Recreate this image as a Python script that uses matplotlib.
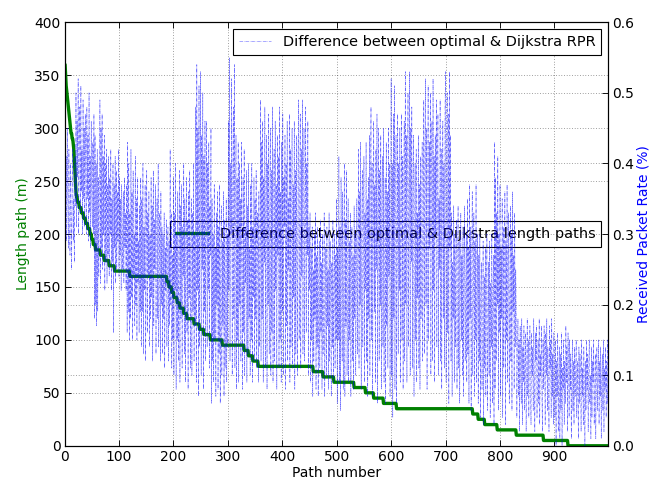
import numpy as np
import matplotlib
matplotlib.use("Agg")
import matplotlib.pyplot as plt
from matplotlib.ticker import FormatStrFormatter

# Length difference (m), stored as level -> number of paths at that level
length_levels = [360, 350, 340, 335, 330, 325, 320, 315, 310, 305, 300, 295, 290,
                 285, 280, 270, 260, 250, 240, 235, 230, 225, 220, 215, 210, 205,
                 200, 195, 190, 185, 180, 175, 170, 165, 160, 155, 150, 145, 140,
                 135, 130, 125, 120, 115, 110, 105, 100, 95, 90, 85, 80, 75, 70,
                 65, 60, 55, 50, 45, 40, 35, 30, 25, 20, 15, 10, 5, 0]
length_counts = [2, 1, 1, 1, 1, 1, 1, 1, 1, 1, 1, 2, 2,
                 1, 1, 1, 1, 1, 1, 2, 3, 4, 4, 4, 4, 4,
                 3, 3, 4, 9, 7, 9, 10, 28, 68, 4, 5, 4, 6,
                 5, 7, 6, 13, 10, 8, 12, 22, 40, 8, 8, 10, 101, 18,
                 20, 37, 21, 15, 18, 24, 140, 10, 12, 23, 35, 50, 45, 75]

# RPR difference per path (hundredths)
rpr_hundredths = [
    30, 44, 33, 41, 29, 45, 36, 28, 42, 31, 27, 40, 33, 25, 38, 42, 29, 35, 26, 41,
    34, 50, 31, 46, 38, 52, 30, 44, 48, 33, 51, 36, 42, 30, 49, 35, 45, 31, 47, 39,
    30, 48, 35, 44, 29, 50, 33, 41, 28, 46, 36, 31, 43, 30, 47, 18, 44, 20, 40, 17,
    42, 19, 38, 24, 35, 49, 23, 45, 28, 47, 25, 41, 30, 44, 22, 40, 26, 42, 23, 37,
    27, 41, 24, 38, 30, 42, 22, 35, 26, 40, 16, 37, 28, 41, 23, 39, 25, 36, 29, 42,
    24, 38, 27, 35, 22, 37, 30, 25, 36, 23, 38, 28, 33, 22, 37, 16, 43, 19, 40, 15,
    33, 18, 42, 21, 36, 15, 39, 24, 30, 17, 41, 20, 35, 15, 38, 23, 29, 16, 34, 19,
    38, 14, 35, 19, 40, 13, 31, 22, 37, 12, 28, 39, 16, 33, 24, 36, 14, 30, 18, 38,
    21, 34, 12, 39, 17, 32, 25, 37, 13, 29, 35, 18, 40, 14, 26, 33, 12, 36, 20, 31,
    13, 30, 18, 33, 11, 28, 22, 32, 14, 26, 31, 12, 29, 17, 42, 20, 33, 11, 27, 15,
    38, 10, 33, 22, 40, 8, 30, 15, 36, 12, 27, 39, 9, 34, 18, 37, 11, 31, 24, 40,
    13, 35, 9, 29, 38, 16, 32, 8, 36, 21, 39, 11, 28, 35, 10, 33, 19, 40, 12, 30,
    17, 48, 9, 54, 22, 45, 7, 51, 14, 38, 53, 10, 44, 25, 50, 8, 41, 19, 46, 12,
    36, 46, 14, 40, 22, 43, 11, 34, 27, 45, 6, 35, 12, 30, 9, 37, 15, 28, 7, 33,
    20, 36, 8, 31, 13, 37, 6, 26, 34, 10, 29, 17, 36, 7, 32, 11, 24, 35, 9, 30,
    14, 46, 22, 55, 12, 40, 30, 52, 10, 36, 48, 18, 54, 11, 33, 44, 8, 38, 15, 43,
    9, 40, 20, 35, 12, 43, 27, 8, 38, 16, 42, 10, 31, 23, 39, 9, 34, 13, 40, 18,
    28, 10, 37, 15, 40, 9, 31, 21, 38, 12, 35, 18, 39, 11, 29, 33, 9, 36, 14, 25,
    49, 12, 43, 18, 46, 9, 38, 26, 48, 11, 35, 44, 8, 40, 20, 47, 13, 32, 45, 10,
    39, 16, 48, 9, 34, 42, 12, 46, 22, 37, 8, 44, 27, 41, 11, 48, 15, 36, 9, 43,
    19, 47, 10, 38, 31, 44, 8, 40, 17, 46, 12, 35, 25, 47, 9, 42, 14, 33, 45, 11,
    37, 21, 46, 8, 39, 13, 44, 28, 10, 41, 49, 15, 36, 47, 11, 42, 24, 49, 13, 38,
    45, 12, 33, 48, 16, 40, 27, 46, 10, 31, 22, 33, 9, 28, 15, 31, 7, 25, 12, 30,
    18, 33, 8, 27, 14, 31, 7, 24, 29, 11, 32, 16, 26, 8, 30, 13, 22, 33, 7, 20,
    28, 10, 31, 17, 25, 8, 33, 12, 29, 19, 7, 26, 14, 32, 9, 23, 30, 11, 27, 15,
    35, 6, 28, 15, 41, 9, 31, 5, 38, 20, 12, 36, 8, 25, 40, 7, 32, 17, 39, 10,
    24, 35, 9, 29, 15, 33, 7, 22, 31, 12, 27, 8, 34, 18, 30, 10, 25, 35, 13, 28,
    42, 11, 36, 20, 43, 8, 30, 39, 14, 27, 41, 9, 33, 22, 43, 12, 35, 7, 38, 18,
    44, 10, 36, 48, 15, 40, 7, 31, 46, 19, 37, 9, 42, 25, 47, 6, 33, 45, 12, 39,
    20, 44, 8, 35, 41, 14, 45, 9, 29, 38, 6, 43, 17, 36, 11, 45, 24, 40, 7, 33,
    52, 10, 40, 4, 47, 18, 51, 8, 36, 44, 6, 30, 47, 13, 40, 22, 45, 9, 35, 47,
    15, 41, 8, 37, 46, 12, 53, 20, 44, 9, 38, 50, 14, 32, 53, 10, 45, 26, 48, 11,
    36, 44, 7, 30, 40, 15, 42, 9, 33, 21, 44, 11, 37, 8, 41, 18, 35, 43, 12, 29,
    49, 13, 40, 52, 20, 45, 8, 37, 51, 15, 43, 28, 50, 10, 39, 46, 12, 52, 22, 41,
    9, 44, 30, 49, 14, 38, 47, 10, 35, 25, 49, 12, 42, 8, 37, 46, 18, 40, 11, 48,
    53, 9, 41, 50, 16, 47, 6, 53, 28, 44, 12, 33, 7, 26, 18, 34, 9, 30, 14, 28,
    32, 8, 24, 34, 11, 29, 6, 22, 33, 15, 27, 10, 31, 7, 25, 34, 12, 20, 30, 9,
    35, 13, 28, 6, 37, 18, 31, 5, 26, 36, 10, 24, 33, 7, 29, 15, 37, 9, 22, 30,
    6, 27, 12, 30, 4, 22, 26, 8, 18, 29, 3, 24, 11, 28, 7, 20, 30, 5, 16, 26,
    10, 29, 4, 23, 14, 30, 6, 21, 27, 3, 43, 8, 38, 12, 33, 20, 41, 5, 30, 16,
    37, 7, 28, 18, 35, 4, 31, 11, 24, 36, 3, 29, 15, 37, 9, 26, 33, 6, 21, 34,
    12, 30, 5, 36, 19, 27, 8, 33, 14, 25, 16, 4, 13, 18, 7, 15, 2, 17, 10, 6,
    18, 3, 14, 9, 17, 5, 12, 16, 2, 11, 18, 7, 15, 4, 13, 17, 8, 3, 16, 10,
    14, 5, 18, 9, 2, 16, 12, 17, 4, 11, 15, 6, 18, 3, 13, 10, 17, 7, 2, 15,
    8, 17, 12, 3, 16, 10, 18, 5, 14, 9, 2, 17, 11, 15, 4, 18, 7, 13, 3, 16,
    10, 4, 15, 0, 12, 7, 16, 2, 9, 14, 1, 13, 5, 16, 0, 11, 8, 15, 3, 12,
    6, 17, 9, 14, 2, 16, 11, 4, 15, 8, 13, 1, 10, 15, 5, 12, 3, 14, 7, 11,
    15, 4, 12, 8, 1, 14, 6, 13, 10, 2, 15, 7, 11, 3, 14, 9, 0, 12, 5, 15,
    8, 13, 2, 11, 15, 6, 10, 1, 14, 4, 12, 9, 15, 3, 7, 13, 1, 11, 14, 5,
    10, 15, 3, 12, 7, 14, 1, 9, 13, 5, 15, 2, 11, 8, 14, 4, 12, 6, 15, 9,
]

length_diff = np.repeat(length_levels, length_counts)
rpr_diff = np.array(rpr_hundredths) / 100.0
x_len = np.arange(len(length_diff))
x_rpr = np.arange(len(rpr_diff))

plt.rcParams["font.family"] = "DejaVu Sans"
plt.rcParams["font.size"] = 12.5
plt.rcParams["xtick.direction"] = "in"
plt.rcParams["ytick.direction"] = "in"

fig = plt.figure(figsize=(8.15, 6.05), dpi=80)
ax1 = fig.add_axes([0.099, 0.079, 0.834, 0.875])
ax2 = ax1.twinx()

green = (0, 0.5, 0)
line_len, = ax1.plot(x_len, length_diff, color=green, lw=3,
                     label="Difference between optimal & Dijkstra length paths")
line_rpr, = ax2.plot(x_rpr, rpr_diff, color="b", ls="-.", lw=0.5, alpha=0.6,
                     label="Difference between optimal & Dijkstra RPR")

ax1.set_xlim(0, 999)
ax1.set_ylim(0, 400)
ax2.set_ylim(0, 0.6)
ax1.set_xticks(np.arange(0, 1000, 100))
ax1.set_yticks(np.arange(0, 401, 50))
ax2.set_yticks(np.arange(0, 0.61, 0.1))
ax2.yaxis.set_major_formatter(FormatStrFormatter("%.1f"))

for ax in (ax1, ax2):
    ax.grid(True, color="k", ls=(0, (1, 3)), lw=0.6, alpha=0.8)
    ax.tick_params(length=5, width=0.8, top=True)
    for s in ax.spines.values():
        s.set_linewidth(1.0)

ax1.set_xlabel("Path number", labelpad=2)
ax1.set_ylabel("Length path (m)", color=green)
ax2.set_ylabel("Received Packet Rate (%)", color="b", labelpad=2)

leg1 = ax1.legend(handles=[line_len], loc="center right", fancybox=False,
                  framealpha=1, edgecolor="k", fontsize=13, handlelength=2.2)
leg2 = ax2.legend(handles=[line_rpr], loc="upper right", fancybox=False,
                  framealpha=1, edgecolor="k", fontsize=13, handlelength=2.2)
for lg in (leg1, leg2):
    lg.get_frame().set_linewidth(1.0)

fig.savefig("out.png", dpi=80)
